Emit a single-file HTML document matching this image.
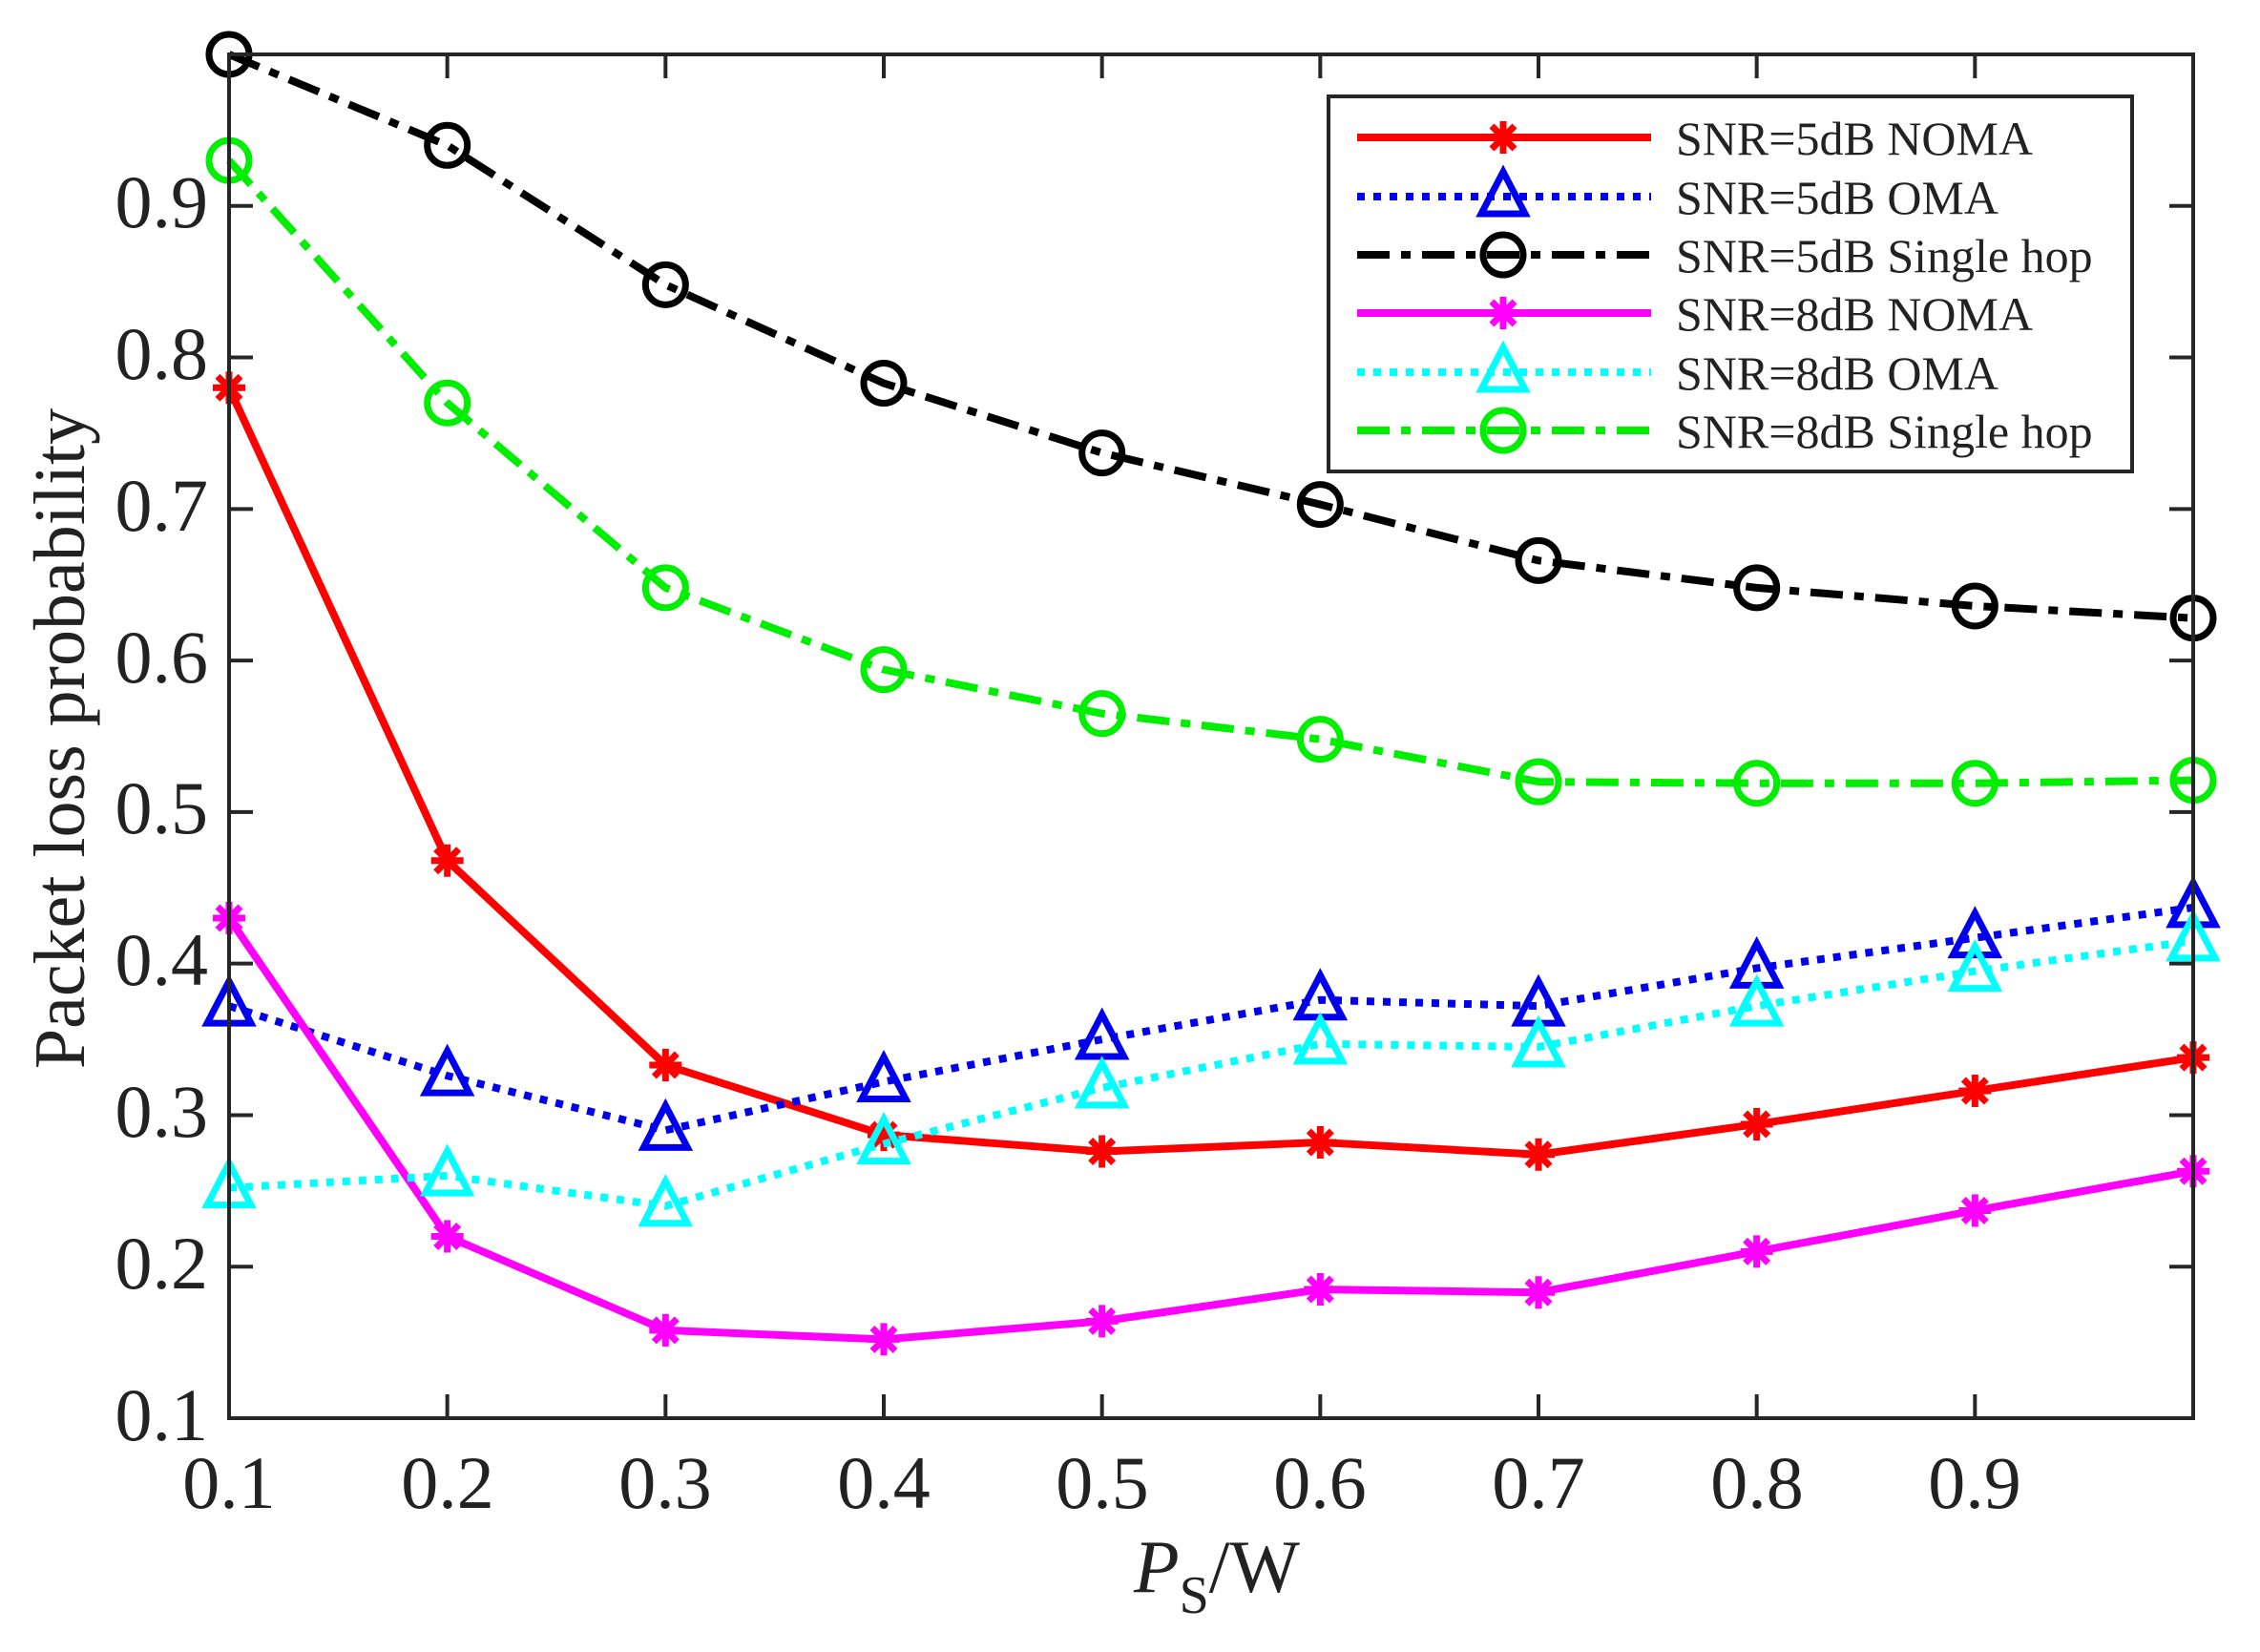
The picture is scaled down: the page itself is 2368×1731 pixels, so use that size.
<!DOCTYPE html>
<html><head><meta charset="utf-8"><style>
html,body{margin:0;padding:0;background:#fff;}
svg{display:block;}
text{font-family:"Liberation Serif","DejaVu Serif",serif;fill:#222;}
</style></head><body>
<svg id="s" width="2368" height="1731" viewBox="0 0 2368 1731" xmlns="http://www.w3.org/2000/svg">
<rect width="2368" height="1731" fill="#fff"/>
<g id="plot"></g>
<rect x="240" y="57" width="2058" height="1429" fill="none" stroke="#262626" stroke-width="4"/>
<g id="ticks" stroke="#262626" stroke-width="4"></g>
<g font-size="78" text-anchor="end">
<text x="218" y="1509">0.1</text>
<text x="218" y="1350">0.2</text>
<text x="218" y="1191">0.3</text>
<text x="218" y="1032">0.4</text>
<text x="218" y="873">0.5</text>
<text x="218" y="715">0.6</text>
<text x="218" y="556">0.7</text>
<text x="218" y="397">0.8</text>
<text x="218" y="238">0.9</text>
</g>
<g font-size="78" text-anchor="middle">
<text x="240" y="1580">0.1</text>
<text x="469" y="1580">0.2</text>
<text x="697" y="1580">0.3</text>
<text x="926" y="1580">0.4</text>
<text x="1155" y="1580">0.5</text>
<text x="1383" y="1580">0.6</text>
<text x="1612" y="1580">0.7</text>
<text x="1841" y="1580">0.8</text>
<text x="2069" y="1580">0.9</text>
</g>
<text x="1275" y="1668" font-size="78" text-anchor="middle"><tspan font-style="italic">P</tspan><tspan font-size="56" dy="22">S</tspan><tspan dy="-22">/W</tspan></text>
<text transform="translate(88,774) rotate(-90)" font-size="76" text-anchor="middle">Packet loss probability</text>
<rect x="1392" y="101" width="842" height="393" fill="#fff" stroke="#262626" stroke-width="4"/>
<g id="leg"></g>
<g font-size="50">
<text x="1756" y="162">SNR=5dB NOMA</text>
<text x="1756" y="224">SNR=5dB OMA</text>
<text x="1756" y="285">SNR=5dB Single hop</text>
<text x="1756" y="346">SNR=8dB NOMA</text>
<text x="1756" y="408">SNR=8dB OMA</text>
<text x="1756" y="469">SNR=8dB Single hop</text>
</g>
</svg>
<script>
const NS="http://www.w3.org/2000/svg";
function el(p,t,a){const e=document.createElementNS(NS,t);for(const k in a)e.setAttribute(k,a[k]);p.appendChild(e);return e;}
const X=i=>240+i*2058/9, Y=v=>57+(1-v)*1429/0.9;
const tk=document.getElementById('ticks');
for(let i=1;i<9;i++){el(tk,'line',{x1:X(i),y1:1486,x2:X(i),y2:1461});el(tk,'line',{x1:X(i),y1:57,x2:X(i),y2:82});}
for(let j=1;j<9;j++){const y=Y(0.1+j*0.1);el(tk,'line',{x1:240,y1:y,x2:265,y2:y});el(tk,'line',{x1:2298,y1:y,x2:2273,y2:y});}
const series=[
{c:'#ff0000',d:'',m:'star',v:[0.78,0.468,0.333,0.287,0.276,0.282,0.274,0.294,0.316,0.338]},
{c:'#0000ee',d:'8 9',m:'tri',v:[0.372,0.326,0.29,0.322,0.35,0.376,0.372,0.397,0.417,0.437]},
{c:'#000000',d:'34 12 10 12',m:'circ',v:[1.0,0.94,0.848,0.783,0.737,0.703,0.666,0.648,0.636,0.628]},
{c:'#ff00ff',d:'',m:'star',v:[0.43,0.22,0.158,0.152,0.164,0.185,0.183,0.21,0.237,0.263]},
{c:'#00ffff',d:'8 9',m:'tri',v:[0.252,0.26,0.24,0.281,0.318,0.347,0.345,0.372,0.395,0.415]},
{c:'#00ee00',d:'34 12 10 12',m:'circ',v:[0.93,0.77,0.648,0.594,0.565,0.548,0.52,0.519,0.519,0.521]}];
function marker(g,m,x,y,c){
 if(m=='circ')el(g,'circle',{cx:x,cy:y,r:21,fill:'none',stroke:c,'stroke-width':7});
 else if(m=='tri')el(g,'polygon',{points:`${x},${y-26} ${x+23},${y+18} ${x-23},${y+18}`,fill:'none',stroke:c,'stroke-width':7});
 else{for(let a=0;a<4;a++){const t=a*Math.PI/4;el(g,'line',{x1:x-17*Math.cos(t),y1:y-17*Math.sin(t),x2:x+17*Math.cos(t),y2:y+17*Math.sin(t),stroke:c,'stroke-width':7});}}
}
const pg=document.getElementById('plot');
series.forEach(s=>{
 const pts=s.v.map((v,i)=>X(i)+','+Y(v)).join(' ');
 const a={points:pts,fill:'none',stroke:s.c,'stroke-width':8,'stroke-linejoin':'round'};
 if(s.d)a['stroke-dasharray']=s.d;
 el(pg,'polyline',a);
 s.v.forEach((v,i)=>marker(pg,s.m,X(i),Y(v),s.c));
});
const lg=document.getElementById('leg');
const ly=[144,206,267,328,390,451];
series.forEach((s,k)=>{
 const a={x1:1422,y1:ly[k],x2:1730,y2:ly[k],stroke:s.c,'stroke-width':8};
 if(s.d)a['stroke-dasharray']=s.d;
 el(lg,'line',a);
 marker(lg,s.m,1575,ly[k],s.c);
});
</script>
</body></html>
